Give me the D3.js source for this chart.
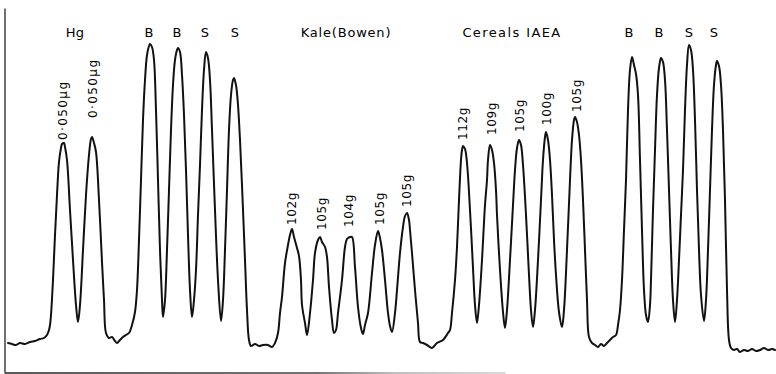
<!DOCTYPE html>
<html>
<head>
<meta charset="utf-8">
<script src="https://cdn.jsdelivr.net/npm/d3@7"></script>
<style>
  html, body { margin: 0; padding: 0; background: #fff; }
  svg { display: block; }
  .head { font-family: "DejaVu Sans", sans-serif; font-size: 13px; fill: #000; }
  .mass { font-family: "DejaVu Sans", sans-serif; font-size: 12px; fill: #000; }
</style>
</head>
<body>
<svg id="chart" width="776" height="374"></svg>
<script>
// Recorder trace: [time (min), detector response (mV)]
const trace = [
  [0.3,2.9],[0.7,2.8],[1.1,2.7],[1.5,2.9],[2.0,2.8],[2.5,3.0],[3.0,3.1],[3.5,3.3],[3.9,3.4],[4.2,3.7],
  [4.4,4.2],[4.5,4.7],[4.6,5.7],[4.8,9.2],[5.0,13.7],[5.2,17.7],[5.4,21.0],[5.6,22.4],[5.7,22.8],[5.9,22.9],
  [6.0,22.5],[6.2,21.2],[6.5,16.2],[6.8,11.2],[7.1,6.7],[7.3,5.0],[7.5,6.7],[7.8,12.2],[8.1,17.7],[8.4,21.7],
  [8.6,23.3],[8.7,23.5],[8.9,22.9],[9.1,22.0],[9.4,17.2],[9.7,11.0],[9.9,7.2],[10.1,3.9],[10.4,3.4],[10.7,3.5],
  [11.0,3.1],[11.2,2.9],[11.5,3.2],[11.8,3.5],[12.1,3.7],[12.4,3.9],[12.7,4.7],[13.0,6.0],[13.2,8.2],[13.4,13.2],
  [13.6,19.2],[13.8,25.2],[14.0,29.2],[14.2,31.7],[14.4,32.6],[14.5,32.8],[14.7,32.5],[14.9,31.2],[15.1,26.2],[15.3,19.2],
  [15.5,12.2],[15.7,7.2],[15.8,5.5],[16.0,7.2],[16.2,12.2],[16.4,18.2],[16.6,24.2],[16.8,28.7],[17.0,31.2],[17.2,32.2],
  [17.3,32.4],[17.5,32.0],[17.7,29.7],[17.9,25.7],[18.1,20.2],[18.3,13.7],[18.5,8.2],[18.7,5.5],[18.9,7.2],[19.1,10.2],
  [19.3,15.7],[19.5,20.7],[19.7,26.2],[19.9,30.2],[20.1,32.0],[20.3,31.4],[20.5,29.2],[20.7,24.2],[21.0,16.2],[21.3,9.2],
  [21.6,5.1],[21.8,7.2],[22.0,12.2],[22.2,18.2],[22.4,24.2],[22.6,27.7],[22.8,29.2],[22.9,29.4],[23.1,28.7],[23.3,26.7],
  [23.5,23.2],[23.7,18.7],[24.0,11.2],[24.2,6.2],[24.4,3.2],[24.6,2.6],[25.0,2.8],[25.4,2.6],[25.8,2.7],[26.3,2.7],
  [26.7,2.5],[27.0,2.9],[27.3,3.9],[27.5,5.9],[27.7,7.5],[28.0,10.9],[28.3,12.7],[28.5,13.7],[28.7,14.3],[28.9,13.5],
  [29.2,12.4],[29.4,11.6],[29.6,9.2],[29.7,6.7],[30.0,4.9],[30.2,3.7],[30.5,5.9],[30.8,9.2],[31.0,11.9],[31.3,13.2],
  [31.5,13.5],[31.7,13.0],[32.0,12.5],[32.2,11.5],[32.4,8.5],[32.7,5.2],[32.9,3.9],[33.1,4.2],[33.3,5.9],[33.7,9.2],
  [34.0,12.5],[34.2,13.3],[34.5,13.5],[34.7,13.5],[35.0,10.5],[35.3,6.5],[35.6,4.4],[35.8,3.8],[36.0,4.7],[36.3,5.9],
  [36.7,9.9],[37.0,12.7],[37.3,14.1],[37.5,13.4],[37.7,12.2],[38.0,9.2],[38.3,5.9],[38.5,4.6],[38.7,4.0],[39.0,5.9],
  [39.2,8.2],[39.5,11.9],[39.8,14.5],[40.0,15.6],[40.2,15.9],[40.4,15.2],[40.5,14.2],[40.7,11.9],[41.0,8.2],[41.3,4.9],
  [41.5,3.0],[41.8,2.9],[42.2,2.7],[42.7,2.4],[43.2,2.9],[43.8,3.2],[44.3,3.9],[44.5,4.2],[44.7,5.9],[45.0,9.2],
  [45.2,12.5],[45.4,17.2],[45.6,21.2],[45.7,22.2],[45.8,22.6],[46.0,22.3],[46.2,20.9],[46.5,16.2],[46.8,10.4],[47.0,6.7],
  [47.2,4.9],[47.4,6.7],[47.7,11.2],[48.0,16.7],[48.2,19.2],[48.3,21.2],[48.5,22.7],[48.7,22.2],[48.9,20.9],[49.1,18.2],
  [49.2,15.7],[49.5,10.2],[49.8,6.0],[50.0,4.4],[50.2,6.2],[50.5,11.2],[50.8,16.7],[51.0,20.2],[51.2,22.4],[51.4,23.2],
  [51.6,22.7],[51.8,20.7],[52.1,15.7],[52.4,9.7],[52.6,6.2],[52.8,4.5],[53.0,6.2],[53.3,11.2],[53.6,17.2],[53.8,21.2],
  [54.0,23.5],[54.1,24.0],[54.3,23.2],[54.5,21.2],[54.7,17.7],[54.9,13.2],[55.1,9.7],[55.4,6.0],[55.7,4.5],[55.9,6.2],
  [56.2,12.2],[56.5,19.2],[56.7,23.2],[56.9,25.2],[57.0,25.5],[57.2,25.0],[57.4,23.7],[57.6,21.2],[57.8,17.2],[58.0,12.2],
  [58.2,7.2],[58.4,3.5],[58.7,2.9],[59.0,2.7],[59.3,2.5],[59.6,2.8],[59.9,2.6],[60.2,2.9],[60.5,3.2],[60.8,3.5],
  [61.1,3.7],[61.3,4.7],[61.5,6.2],[61.7,9.2],[61.9,14.2],[62.1,19.2],[62.3,26.2],[62.5,30.2],[62.7,31.5],[62.9,30.7],
  [63.1,29.8],[63.3,27.7],[63.5,21.2],[63.7,14.2],[63.9,8.2],[64.1,5.7],[64.3,5.0],[64.5,6.7],[64.6,9.2],[64.8,16.2],
  [65.0,22.2],[65.2,27.7],[65.4,30.4],[65.6,31.4],[65.8,31.0],[66.0,29.2],[66.2,24.2],[66.4,18.2],[66.6,12.2],[66.8,7.2],
  [67.0,5.0],[67.2,7.2],[67.4,11.2],[67.6,15.7],[67.8,20.2],[68.0,26.2],[68.2,30.7],[68.4,32.7],[68.6,32.2],[68.8,30.2],
  [69.0,25.2],[69.2,18.2],[69.4,12.2],[69.6,7.7],[69.9,5.1],[70.1,7.2],[70.3,12.2],[70.5,18.2],[70.7,24.2],[70.9,28.7],
  [71.1,30.7],[71.2,31.1],[71.4,30.6],[71.6,28.7],[71.8,24.2],[72.0,17.2],[72.2,8.2],[72.4,3.2],[72.6,2.4],[72.9,2.2],
  [73.2,2.3],[73.5,2.0],[73.9,2.2],[74.3,2.1],[74.7,2.3],[75.1,2.1],[75.5,2.2],[75.9,2.4],[76.3,2.2],[76.7,2.3],[77.0,2.2]
];

// Group headings written across the top of the record
const headText = ["Hg", "B", "B", "S", "S", "Kale(Bowen)", "Cereals IAEA", "B", "B", "S", "S"];
const headTime = [7.0, 14.4, 17.2, 20.0, 23.0, 34.1, 50.7, 62.4, 65.4, 68.4, 70.9];

// Sample amounts written beside each injection peak
const massText  = ["0·050μg", "0·050μg", "102g", "105g", "104g", "105g", "105g", "112g", "109g", "105g", "100g", "105g"];
const massTime  = [5.8, 8.8, 28.7, 31.7, 34.4, 37.5, 40.2, 45.8, 48.7, 51.5, 54.2, 57.2];
const massLevel = [23.2, 25.4, 14.7, 14.2, 14.5, 14.7, 16.5, 23.2, 23.7, 24.0, 24.7, 26.0];

// Extent of the chart paper
const timeDomain = [0, 77];
const signalDomain = [0, 36.4];
const paperEnd = 50;

const svg = d3.select("#chart");
const x = d3.scaleLinear().domain(timeDomain).range([5, 775]);
const y = d3.scaleLinear().domain(signalDomain).range([372, 8]);

// Paper edges: left edge and a fading bottom edge
const defs = svg.append("defs");
const grad = defs.append("linearGradient")
  .attr("id", "edgeFade").attr("gradientUnits", "userSpaceOnUse")
  .attr("x1", x(0)).attr("x2", x(paperEnd)).attr("y1", 0).attr("y2", 0);
grad.append("stop").attr("offset", "0%").attr("stop-color", "#222");
grad.append("stop").attr("offset", "62%").attr("stop-color", "#444");
grad.append("stop").attr("offset", "78%").attr("stop-color", "#aaa");
grad.append("stop").attr("offset", "100%").attr("stop-color", "#ccc");

const leftAxis = d3.axisLeft(y).tickValues([]).tickSizeOuter(0);
svg.append("g").attr("transform", `translate(${x(0) - 0.5},0)`).call(leftAxis)
  .select(".domain").attr("stroke", "#222").attr("stroke-width", 1.3);

const xEdge = d3.scaleLinear().domain([0, paperEnd]).range([x(0) - 1, x(paperEnd)]);
const bottomAxis = d3.axisBottom(xEdge).tickValues([]).tickSizeOuter(0);
svg.append("g").attr("transform", `translate(0,${y(0) + 0.5})`).call(bottomAxis)
  .select(".domain").attr("stroke", "url(#edgeFade)").attr("stroke-width", 1.4);

// The recorder pen trace
const line = d3.line()
  .x(d => x(d[0]))
  .y(d => y(d[1]))
  .curve(d3.curveCatmullRom.alpha(0.5));

svg.append("path")
  .datum(trace)
  .attr("d", line)
  .attr("fill", "none")
  .attr("stroke", "#111")
  .attr("stroke-width", 2)
  .attr("stroke-linejoin", "round")
  .attr("stroke-linecap", "round");

// Headings; the longer ones are spread out like the hand lettering
const headSpacing = { "Kale(Bowen)": "0.8px", "Cereals IAEA": "1.4px", "Hg": "0.3px" };
svg.append("g").selectAll("text")
  .data(headText)
  .join("text")
  .attr("class", "head")
  .attr("x", (d, i) => x(headTime[i]))
  .attr("y", 37)
  .attr("text-anchor", "middle")
  .attr("letter-spacing", d => headSpacing[d] || "0")
  .text(d => d);

// Rotated sample amounts
svg.append("g").selectAll("text")
  .data(massText)
  .join("text")
  .attr("class", "mass")
  .attr("transform", (d, i) => `translate(${x(massTime[i])},${y(massLevel[i])}) rotate(-90)`)
  .attr("text-anchor", "start")
  .attr("dominant-baseline", "central")
  .attr("letter-spacing", d => d.length > 4 ? "1.4px" : "0.6px")
  .text(d => d);
</script>
</body>
</html>
